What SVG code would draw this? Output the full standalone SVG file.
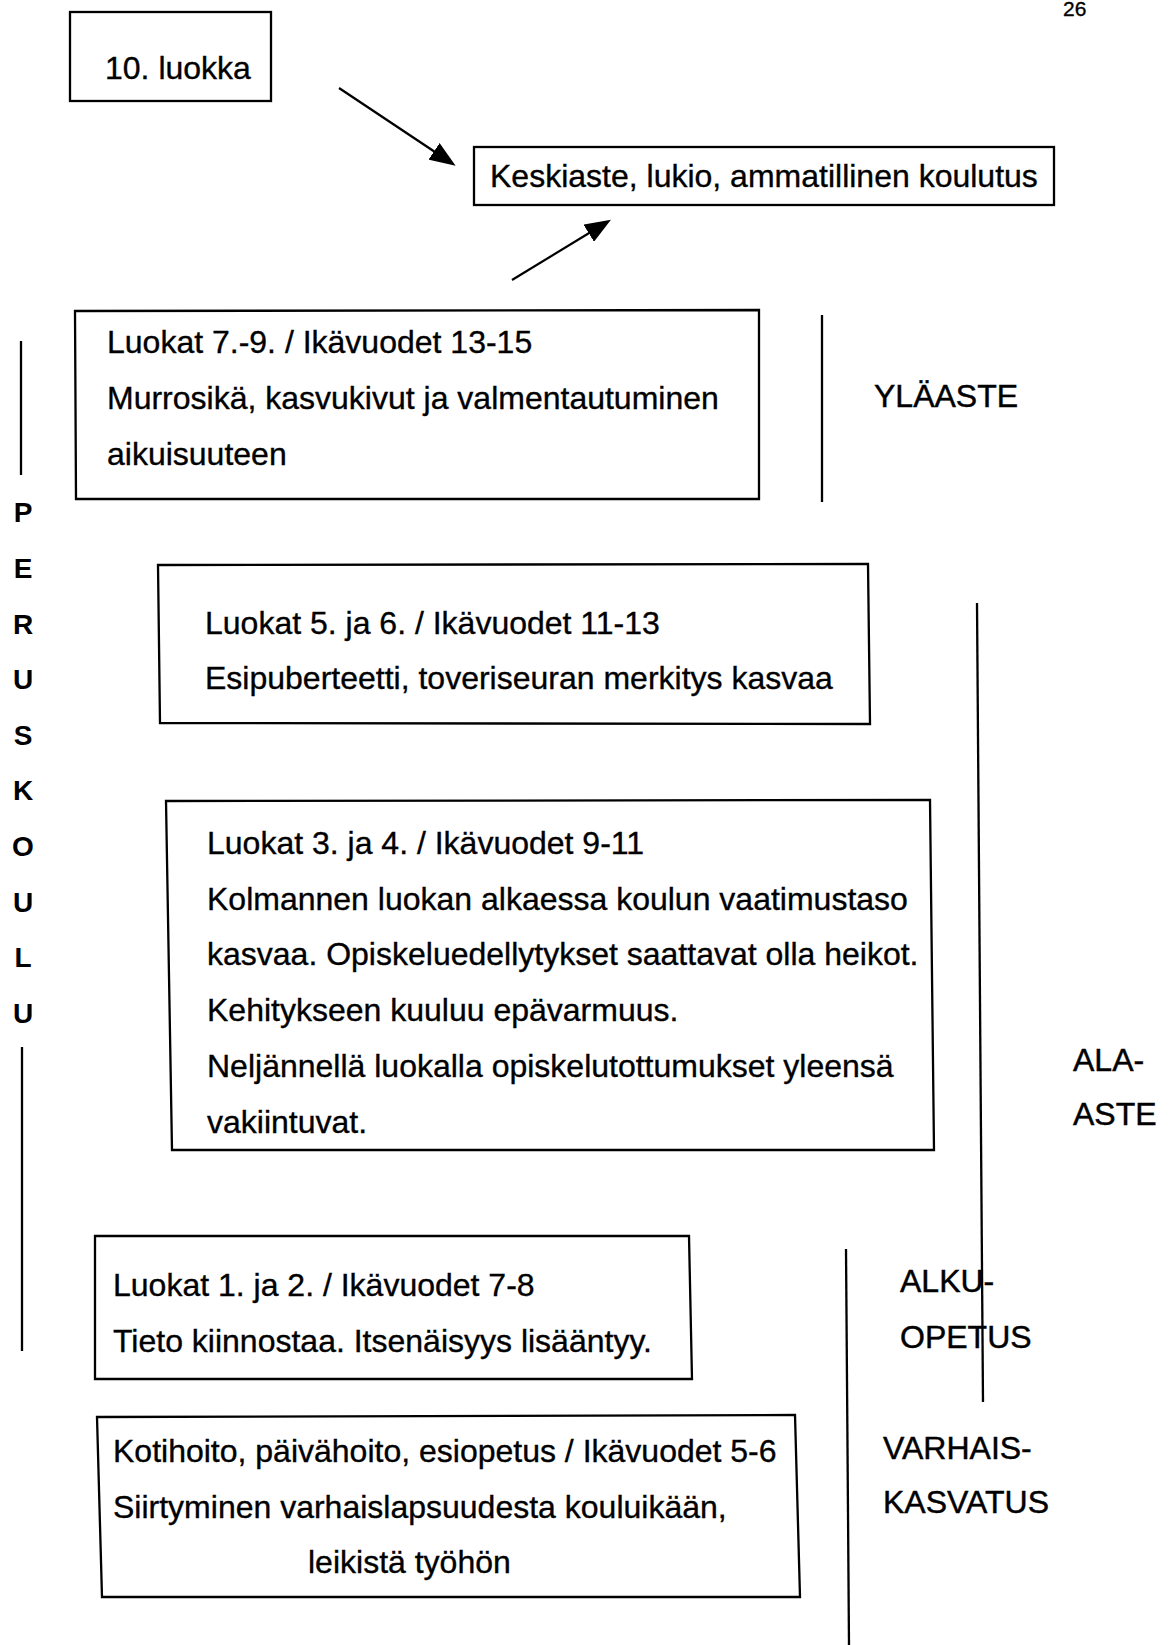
<svg xmlns="http://www.w3.org/2000/svg" width="1172" height="1645" viewBox="0 0 1172 1645">
<defs>
<style>
.bx{fill:none;stroke:#000;stroke-width:2.3;stroke-linejoin:miter}
.t{font-family:"Liberation Sans",Arial,sans-serif;font-size:32px;fill:#000;stroke:#000;stroke-width:0.35}
.lb{font-family:"Liberation Sans",Arial,sans-serif;font-size:32px;fill:#000;stroke:#000;stroke-width:0.45}
.pk{font-family:"Liberation Sans",Arial,sans-serif;font-size:28px;font-weight:bold;fill:#000;text-anchor:middle}
.vl{stroke:#000;stroke-width:2.3;fill:none}
.ar{stroke:#000;stroke-width:2.2;fill:none}
</style>
<marker id="ah" viewBox="0 0 26 20" refX="12" refY="10" markerWidth="26" markerHeight="20" markerUnits="userSpaceOnUse" orient="auto">
<path d="M0,0 L26,10 L0,20 z" fill="#000"/>
</marker>
</defs>
<rect width="1172" height="1645" fill="#fff"/>

<text class="t" x="1063" y="16" style="font-size:21px">26</text>

<g id="node-10-luokka">
<rect class="bx" x="70" y="12" width="201" height="89"/>
<text class="t" x="105" y="79">10. luokka</text>
</g>

<g id="node-keskiaste">
<rect class="bx" x="474" y="147" width="580" height="58"/>
<text class="t" x="490" y="187">Keskiaste, lukio, ammatillinen koulutus</text>
</g>

<g id="node-luokat-7-9">
<path class="bx" d="M75,311 L759,310 L759,499 L76,499 Z"/>
<text class="t" x="107" y="353">Luokat 7.-9. / Ikävuodet 13-15</text>
<text class="t" x="107" y="409">Murrosikä, kasvukivut ja valmentautuminen</text>
<text class="t" x="107" y="465">aikuisuuteen</text>
</g>

<g id="node-luokat-5-6">
<path class="bx" d="M158,565 L868,564 L870,724 L160,723 Z"/>
<text class="t" x="205" y="634">Luokat 5. ja 6. / Ikävuodet 11-13</text>
<text class="t" x="205" y="689">Esipuberteetti, toveriseuran merkitys kasvaa</text>
</g>

<g id="node-luokat-3-4">
<path class="bx" d="M166,801 L930,800 L934,1150 L172,1150 Z"/>
<text class="t" x="207" y="854">Luokat 3. ja 4. / Ikävuodet 9-11</text>
<text class="t" x="207" y="910">Kolmannen luokan alkaessa koulun vaatimustaso</text>
<text class="t" x="207" y="965">kasvaa. Opiskeluedellytykset saattavat olla heikot.</text>
<text class="t" x="207" y="1021">Kehitykseen kuuluu epävarmuus.</text>
<text class="t" x="207" y="1077">Neljännellä luokalla opiskelutottumukset yleensä</text>
<text class="t" x="207" y="1133">vakiintuvat.</text>
</g>

<g id="node-luokat-1-2">
<path class="bx" d="M95,1236 L689,1236 L692,1379 L95,1379 Z"/>
<text class="t" x="113" y="1296">Luokat 1. ja 2. / Ikävuodet 7-8</text>
<text class="t" x="113" y="1352">Tieto kiinnostaa. Itsenäisyys lisääntyy.</text>
</g>

<g id="node-kotihoito">
<path class="bx" d="M97,1417 L795,1415 L800,1597 L102,1597 Z"/>
<text class="t" x="113" y="1462">Kotihoito, päivähoito, esiopetus / Ikävuodet 5-6</text>
<text class="t" x="113" y="1518">Siirtyminen varhaislapsuudesta kouluikään,</text>
<text class="t" x="308" y="1573">leikistä työhön</text>
</g>

<g id="connectors">
<line class="ar" x1="339" y1="88" x2="444" y2="158" marker-end="url(#ah)"/>
<line class="ar" x1="512" y1="280" x2="599" y2="227" marker-end="url(#ah)"/>
</g>

<g id="label-peruskoulu">
<line class="vl" x1="21" y1="341" x2="21" y2="475"/>
<text class="pk" x="23" y="522">P</text>
<text class="pk" x="23" y="578">E</text>
<text class="pk" x="23" y="634">R</text>
<text class="pk" x="23" y="689">U</text>
<text class="pk" x="23" y="745">S</text>
<text class="pk" x="23" y="800">K</text>
<text class="pk" x="23" y="856">O</text>
<text class="pk" x="23" y="912">U</text>
<text class="pk" x="23" y="967">L</text>
<text class="pk" x="23" y="1023">U</text>
<line class="vl" x1="22" y1="1047" x2="22" y2="1351"/>
</g>

<g id="label-ylaaste">
<line class="vl" x1="822" y1="315" x2="822" y2="502"/>
<text class="lb" x="874" y="407">YLÄASTE</text>
</g>

<g id="label-ala-aste">
<line class="vl" x1="977" y1="603" x2="983" y2="1402"/>
<text class="lb" x="1073" y="1071">ALA-</text>
<text class="lb" x="1073" y="1125">ASTE</text>
</g>

<g id="label-alkuopetus">
<text class="lb" x="900" y="1292">ALKU-</text>
<text class="lb" x="900" y="1348">OPETUS</text>
</g>

<g id="label-varhaiskasvatus">
<line class="vl" x1="846" y1="1249" x2="849" y2="1645"/>
<text class="lb" x="883" y="1459">VARHAIS-</text>
<text class="lb" x="883" y="1513">KASVATUS</text>
</g>
</svg>
